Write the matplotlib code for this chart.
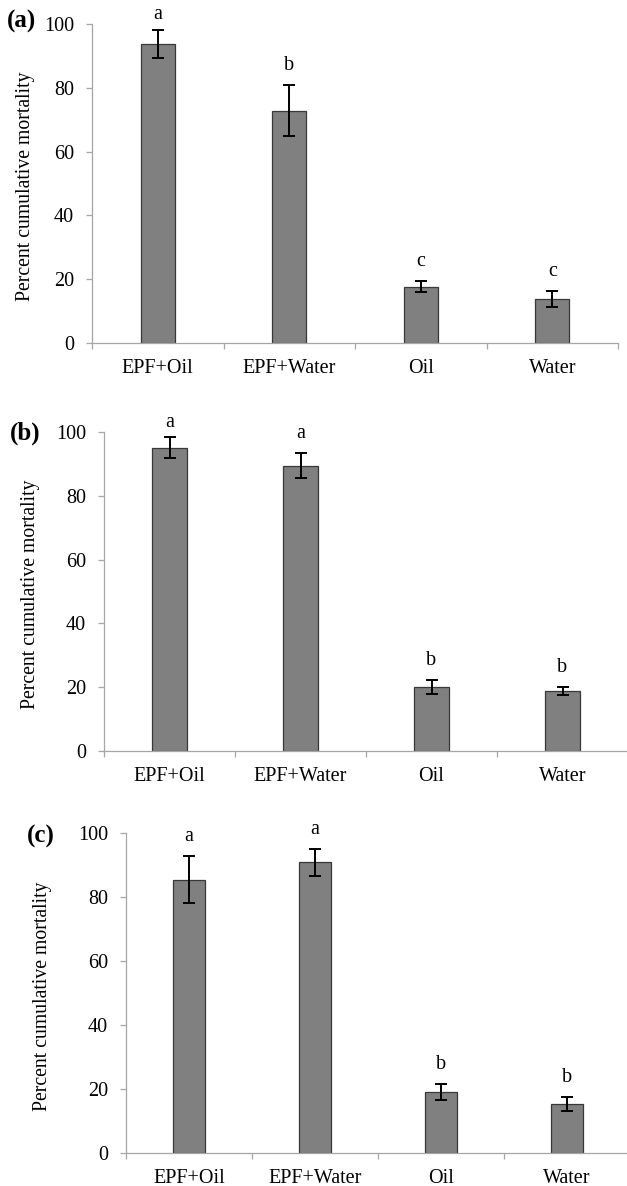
import matplotlib
matplotlib.use("Agg")
import matplotlib.pyplot as plt
import numpy as np

plt.rcParams['font.family'] = ['Liberation Serif', 'DejaVu Serif']

treatments = ["EPF+Oil", "EPF+Water", "Oil", "Water"]

# mean percent cumulative mortality and error
mort_a = [93.8, 72.8, 17.6, 13.8]
err_a = [4.4, 8.0, 1.7, 2.5]
groups_a = ["a", "b", "c", "c"]

mort_b = [95.1, 89.4, 20.1, 18.7]
err_b = [3.3, 3.9, 2.2, 1.3]
groups_b = ["a", "a", "b", "b"]

mort_c = [85.4, 90.8, 19.1, 15.3]
err_c = [7.3, 4.2, 2.5, 2.1]
groups_c = ["a", "a", "b", "b"]

W, H = 627, 1186
fig = plt.figure(figsize=(W / 100, H / 100), dpi=100)

grey = "#a6a6a6"


def px_axes(left, right, top, bottom):
    return fig.add_axes([left / W, 1 - bottom / H, (right - left) / W, (bottom - top) / H])


def draw_panel(ax, means, errs, groups, panel, label_xy, ylab_x):
    x = np.arange(len(treatments))
    ax.bar(x, means, width=0.26, color="#808080", edgecolor="#383838", linewidth=0.9, zorder=2)
    ax.errorbar(x, means, yerr=errs, fmt="none", ecolor="black", elinewidth=1.4,
                capsize=4, capthick=1.4, zorder=3)
    for xi, m, e, g in zip(x, means, errs, groups):
        ax.text(xi, min(m + e + 3.2, 100), g, ha="center", va="bottom", fontsize=14.5)

    ax.set_xlim(-0.5, len(treatments) - 0.5)
    ax.set_ylim(0, 100)
    ax.set_yticks(np.arange(0, 101, 20))
    ax.set_xticks(x)
    ax.set_xticklabels(treatments)
    ax.set_xticks(np.arange(-0.5, len(treatments) + 0.5, 1), minor=True)
    ax.tick_params(axis="x", which="major", length=0, pad=11.5, labelsize=14.5)
    ax.tick_params(axis="x", which="minor", length=4, width=0.9, color=grey)
    ax.tick_params(axis="y", length=4, width=0.9, color=grey, pad=9, labelsize=14.5)
    for s in ["top", "right"]:
        ax.spines[s].set_visible(False)
    for s in ["left", "bottom"]:
        ax.spines[s].set_color(grey)
        ax.spines[s].set_linewidth(0.9)
    ax.set_ylabel("Percent cumulative mortality", fontsize=14.2)
    ax.yaxis.set_label_coords(ylab_x, 0.49)
    fig.text(label_xy[0] / W, 1 - label_xy[1] / H, panel, fontsize=18, fontweight="bold",
             ha="center", va="center")


ax_a = px_axes(92, 618, 24, 343)
draw_panel(ax_a, mort_a, err_a, groups_a, "(a)", (22, 21), -0.108)

ax_b = px_axes(104, 628, 432, 751)
draw_panel(ax_b, mort_b, err_b, groups_b, "(b)", (25, 433), -0.122)

ax_c = px_axes(126, 630, 833, 1153)
draw_panel(ax_c, mort_c, err_c, groups_c, "(c)", (41, 836), -0.147)

fig.savefig("out.png", dpi=100)
